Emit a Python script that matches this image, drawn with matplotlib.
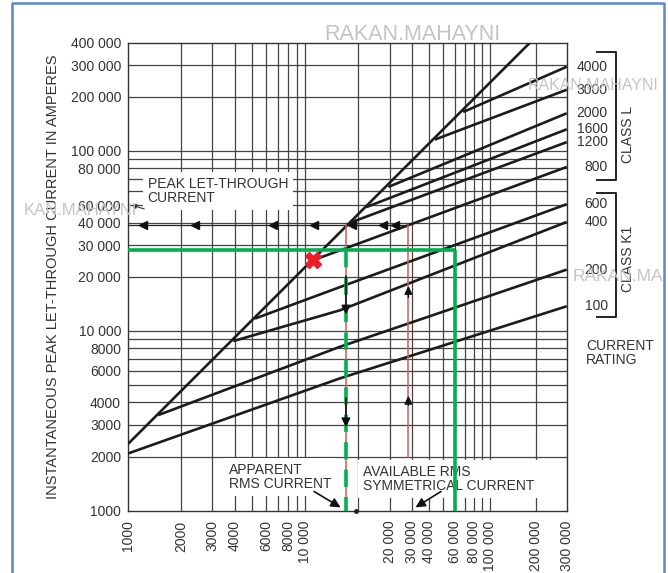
import matplotlib.pyplot as plt
from matplotlib.lines import Line2D
from matplotlib.ticker import NullFormatter

plt.rcParams['font.family'] = ['Liberation Sans', 'DejaVu Sans']

# peak current line without fuse limitation
diag_x = [1000, 186000]
diag_y = [2350, 400000]

# current rating curves
ratings = ['100', '200', '400', '600', '800', '1200', '1600', '2000', '3000', '4000']
curve_x = [
    [1000, 15700, 300000],
    [1480, 15700, 300000],
    [3930, 15700, 300000],
    [5210, 15700, 300000],
    [11100, 300000],
    [17900, 300000],
    [22100, 300000],
    [29500, 300000],
    [54000, 300000],
    [78000, 300000],
]
curve_y = [
    [2080, 5440, 13700],
    [3400, 8150, 21900],
    [8770, 13000, 40300],
    [11700, 17500, 50600],
    [24700, 81500],
    [39900, 112000],
    [48700, 132000],
    [63100, 162000],
    [115700, 219000],
    [164700, 294000],
]

xtick_pos = [1000, 2000, 3000, 4000, 6000, 8000, 10000, 30000, 40000, 50000,
             70000, 90000, 110000, 200000, 300000]
xtick_lab = ['1000', '2000', '3000', '4000', '6000', '8000', '10 000', '20 000',
             '30 000', '40 000', '60 000', '80 000', '100 000', '200 000', '300 000']
ytick_pos = [1000, 2000, 3000, 4000, 6000, 8000, 10000, 20000, 30000, 40000,
             50000, 80000, 100000, 200000, 300000, 400000]
ytick_lab = ['1000', '2000', '3000', '4000', '6000', '8000', '10 000', '20 000',
             '30 000', '40 000', '60 000', '80 000', '100 000', '200 000',
             '300 000', '400 000']

grid_x = list(range(2000, 10001, 1000)) + list(range(20000, 100001, 10000)) + [110000, 200000]
grid_y = list(range(2000, 10001, 1000)) + list(range(20000, 100001, 10000)) + [200000, 300000]

# worked example on the chart
peak_y = 38600
peak_arrows_x = [1220, 2390, 6610, 11200, 18300, 27600, 32300]
apparent_x = 17000
available_x = 38300
available_bottom = 2000
green_y = 28000
green_x = 70000
down_arrows = [(20900, 11900), (4400, 2810)]
up_arrows = [(14800, 18400), (3720, 4510)]

TXT = '#333333'
LINE = '#1c1c1c'
GREEN = '#00b050'
RED = '#d9575a'

fig = plt.figure(figsize=(6.68, 5.73), dpi=100)
ax = fig.add_axes([0.1916, 0.1087, 0.6568, 0.8168])
ax.set_xscale('log')
ax.set_yscale('log')
ax.set_xlim(1000, 300000)
ax.set_ylim(1000, 400000)

ax.set_xticks(xtick_pos)
ax.set_xticklabels(xtick_lab, rotation=90, va='top')
ax.set_yticks(ytick_pos)
ax.set_yticklabels(ytick_lab)
ax.set_xticks(grid_x, minor=True)
ax.set_yticks(grid_y, minor=True)
ax.xaxis.remove_overlapping_locs = False
ax.yaxis.remove_overlapping_locs = False
ax.xaxis.set_minor_formatter(NullFormatter())
ax.yaxis.set_minor_formatter(NullFormatter())
ax.tick_params(which='both', length=0, labelsize=10, labelcolor=TXT)
ax.tick_params(axis='x', pad=7)
ax.tick_params(axis='y', pad=5)
ax.grid(which='minor', color='#444444', lw=0.9, zorder=0)
ax.set_axisbelow(True)
for s in ax.spines.values():
    s.set_color('#333333')
    s.set_linewidth(1.0)

ax.set_ylabel('INSTANTANEOUS PEAK LET-THROUGH CURRENT IN AMPERES',
              fontsize=10.5, color=TXT)
ax.yaxis.set_label_coords(-0.155, 0.5)

# curves
ax.plot(diag_x, diag_y, color=LINE, lw=1.9, zorder=3)
for xs, ys, r in zip(curve_x, curve_y, ratings):
    ax.plot(xs, ys, color=LINE, lw=1.9, zorder=3, solid_capstyle='butt')
    ax.annotate(r, (xs[-1], ys[-1]), xytext=(29.5, 0), textcoords='offset points',
                ha='right', va='center', fontsize=10, color=TXT,
                annotation_clip=False)

# peak let-through arrow line
ax.plot([1000, available_x], [peak_y, peak_y], color='#222222', lw=0.9, zorder=3)
ax.plot(peak_arrows_x, [peak_y] * len(peak_arrows_x), ls='none', marker='<',
        color='#111111', ms=5.5, zorder=4)

# red guide lines
ax.plot([apparent_x, apparent_x], [1000, peak_y], color=RED, lw=1.1, zorder=4)
ax.plot([available_x, available_x], [available_bottom, peak_y], color=RED, lw=1.1, zorder=4)
for tail, tip in down_arrows:
    ax.annotate('', xy=(apparent_x, tip), xytext=(apparent_x, tail),
                arrowprops=dict(arrowstyle='-|>', color='#111111', lw=1.2,
                                mutation_scale=13), zorder=6)
for tail, tip in up_arrows:
    ax.annotate('', xy=(available_x, tip), xytext=(available_x, tail),
                arrowprops=dict(arrowstyle='-|>', color='#111111', lw=1.0,
                                mutation_scale=12), zorder=6)

# green construction lines
ax.plot([1000, green_x], [green_y, green_y], color=GREEN, lw=2.6, zorder=5,
        clip_on=False, solid_capstyle='butt')
ax.plot([green_x, green_x], [green_y, 1000], color=GREEN, lw=2.6, zorder=5,
        solid_capstyle='butt')
ax.plot([apparent_x, apparent_x], [green_y, 1000], color=GREEN, lw=2.6, zorder=5,
        dashes=(4.8, 2.8))

# red cross at the 800 A knee
ax.plot(curve_x[4][0], curve_y[4][0], marker='X', color='#ee1c25', ms=11,
        mec='#ee1c25', zorder=7)
ax.plot(19500, 1000, marker='o', color='#222222', ms=2.5, clip_on=False, zorder=6)

# text boxes
box = dict(facecolor='white', edgecolor='none', boxstyle='square,pad=0.35')
ax.text(0.045, 0.6835, 'PEAK LET-THROUGH\nCURRENT', transform=ax.transAxes,
        fontsize=10, color=TXT, va='center', ha='left', linespacing=1.05,
        bbox=box, zorder=2)
ax.text(0.230, 0.0726, 'APPARENT\nRMS CURRENT', transform=ax.transAxes,
        fontsize=10, color=TXT, va='center', ha='left', linespacing=1.0,
        bbox=box, zorder=2)
ax.text(0.536, 0.0677, 'AVAILABLE RMS\nSYMMETRICAL CURRENT', transform=ax.transAxes,
        fontsize=10, color=TXT, va='center', ha='left', linespacing=1.05,
        bbox=box, zorder=2)

arw = dict(arrowstyle='-|>', color='#111111', lw=1.2, mutation_scale=14)
ax.annotate('', xy=(0.490, 0.004), xytext=(0.4187, 0.0442), xycoords='axes fraction',
            arrowprops=arw, zorder=6)
ax.annotate('', xy=(0.650, 0.004), xytext=(0.7187, 0.0442), xycoords='axes fraction',
            arrowprops=arw, zorder=6)
ax.annotate('', xy=(0.002, 0.655), xytext=(0.043, 0.643), xycoords='axes fraction',
            arrowprops=dict(arrowstyle='-|>', color='#333333', lw=0.8,
                            mutation_scale=7), zorder=6)

# class brackets on the right
for y0, y1 in [(0.9808, 0.7066), (0.6782, 0.4132)]:
    ax.plot([1.068, 1.112, 1.112, 1.068], [y0, y0, y1, y1], color='#222222', lw=1.4,
            transform=ax.transAxes, clip_on=False)
ax.text(1.1397, 0.8049, 'CLASS L', transform=ax.transAxes, rotation=90,
        fontsize=10, color=TXT, ha='center', va='center')
ax.text(1.1397, 0.5378, 'CLASS K1', transform=ax.transAxes, rotation=90,
        fontsize=10, color=TXT, ha='center', va='center')
ax.text(1.044, 0.3365, 'CURRENT\nRATING', transform=ax.transAxes,
        fontsize=10, color=TXT, ha='left', va='center', linespacing=1.05)

# watermarks
wm = dict(color='#c4c4c4', ha='center', va='center', zorder=10)
fig.text(0.618, 0.939, 'RAKAN.MAHAYNI', fontsize=15.5, **wm)
fig.text(0.888, 0.850, 'RAKAN.MAHAYNI', fontsize=11.5, **wm)
fig.text(0.120, 0.6335, 'KAN.MAHAYNI', fontsize=12, **wm)
fig.text(0.925, 0.5166, 'RAKAN.MA', fontsize=12.5, **wm)

# blue frame around the picture
fig.add_artist(Line2D([0.018, 0.018, 0.9945, 0.9945], [-0.01, 0.9948, 0.9948, -0.01],
                      transform=fig.transFigure, color='#5a88c8', lw=1.8))

fig.savefig('out.png', dpi=100, facecolor='white')
